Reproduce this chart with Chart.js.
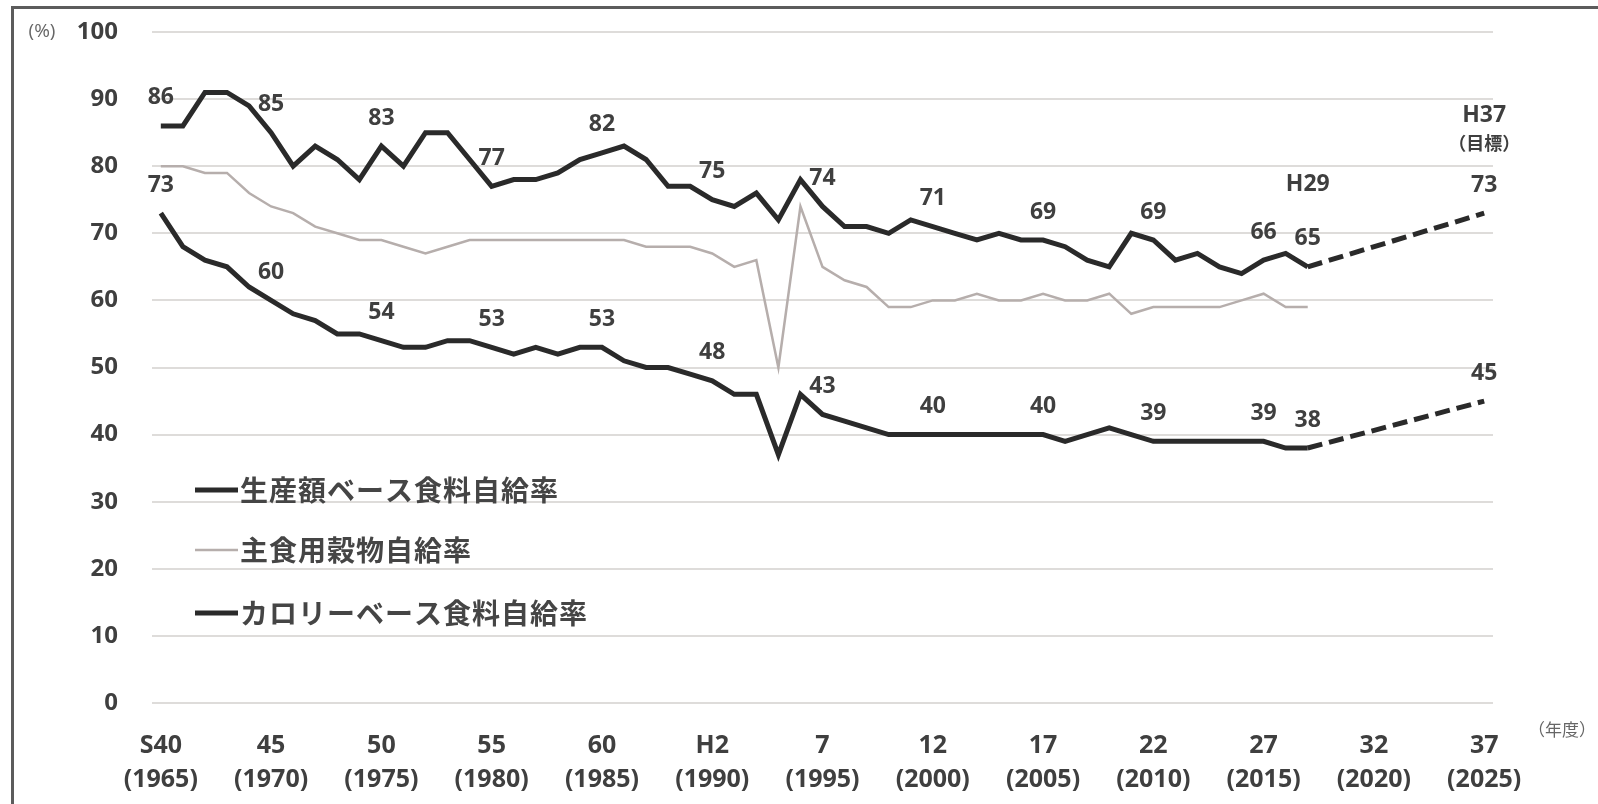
<!DOCTYPE html>
<html lang="ja">
<head>
<meta charset="utf-8">
<title>食料自給率の推移</title>
<script src="https://cdn.jsdelivr.net/npm/chart.js@4.4.1/dist/chart.umd.min.js"></script>
<style>
    html, body { margin: 0; padding: 0; background: #fff; }
    #wrap { position: relative; width: 1598px; height: 804px; overflow: hidden; }
    #marco { position: absolute; left: 11px; top: 6px; width: 1600px; height: 795px;
             border-top: 3px solid #5c5c5c; border-left: 3px solid #5c5c5c;
             border-bottom: 1px solid #d6d6d6; pointer-events: none; }
    canvas { position: absolute; left: 0; top: 0; }
</style>
</head>
<body>
<div id="wrap">
    <canvas id="chart1" width="1598" height="804"></canvas>
    <div id="marco"></div>
</div>
<script>
// Años fiscales (1965 - 2017)
var anios = [1965, 1966, 1967, 1968, 1969, 1970, 1971, 1972, 1973, 1974,
             1975, 1976, 1977, 1978, 1979, 1980, 1981, 1982, 1983, 1984,
             1985, 1986, 1987, 1988, 1989, 1990, 1991, 1992, 1993, 1994,
             1995, 1996, 1997, 1998, 1999, 2000, 2001, 2002, 2003, 2004,
             2005, 2006, 2007, 2008, 2009, 2010, 2011, 2012, 2013, 2014,
             2015, 2016, 2017];

// 生産額ベース食料自給率
var produccion = [86, 86, 91, 91, 89, 85, 80, 83, 81, 78,
                  83, 80, 85, 85, 81, 77, 78, 78, 79, 81,
                  82, 83, 81, 77, 77, 75, 74, 76, 72, 78,
                  74, 71, 71, 70, 72, 71, 70, 69, 70, 69,
                  69, 68, 66, 65, 70, 69, 66, 67, 65, 64,
                  66, 67, 65];

// 主食用穀物自給率
var granos = [80, 80, 79, 79, 76, 74, 73, 71, 70, 69,
              69, 68, 67, 68, 69, 69, 69, 69, 69, 69,
              69, 69, 68, 68, 68, 67, 65, 66, 50, 74,
              65, 63, 62, 59, 59, 60, 60, 61, 60, 60,
              61, 60, 60, 61, 58, 59, 59, 59, 59, 60,
              61, 59, 59];

// カロリーベース食料自給率
var calorias = [73, 68, 66, 65, 62, 60, 58, 57, 55, 55,
                54, 53, 53, 54, 54, 53, 52, 53, 52, 53,
                53, 51, 50, 50, 49, 48, 46, 46, 37, 46,
                43, 42, 41, 40, 40, 40, 40, 40, 40, 40,
                40, 39, 40, 41, 40, 39, 39, 39, 39, 39,
                39, 38, 38];

// Metas H37 (2025)
var aniosMeta = [2017, 2025];
var metaProduccion = [65, 73];
var metaCalorias = [38, 45];

// Etiquetas del eje X
var aniosEje = [1965, 1970, 1975, 1980, 1985, 1990, 1995, 2000, 2005, 2010, 2015, 2020, 2025];
var etiquetasEje = ["S40", "45", "50", "55", "60", "H2", "7", "12", "17", "22", "27", "32", "37"];

// Años con valor rotulado
var aniosRotulo = [1965, 1970, 1975, 1980, 1985, 1990, 1995, 2000, 2005, 2010, 2015, 2017];

var nombres = ["生産額ベース食料自給率", "主食用穀物自給率", "カロリーベース食料自給率"];

function puntos(xs, ys) {
    var res = [];
    for (var i = 0; i < xs.length; i++) {
        res.push({ x: xs[i], y: ys[i] });
    }
    return res;
}

var negro = "#2a2a2a";
var gris = "#b6aeac";
var colorTexto = "#3f3f3f";
var fuenteNum = "'Open Sans', 'DejaVu Sans', sans-serif";
var fuenteJp = "'Noto Sans CJK JP', sans-serif";

// Rótulos de valores, leyenda y textos sueltos
var rotulos = {
    id: "rotulos",
    afterDatasetsDraw: function (chart) {
        var ctx = chart.ctx;
        ctx.save();
        ctx.fillStyle = colorTexto;
        ctx.textAlign = "center";
        ctx.textBaseline = "middle";
        ctx.font = "bold 23px " + fuenteNum;

        [0, 2].forEach(function (ds) {
            var meta = chart.getDatasetMeta(ds);
            var valores = ds == 0 ? produccion : calorias;
            aniosRotulo.forEach(function (a) {
                var idx = anios.indexOf(a);
                var p = meta.data[idx];
                ctx.fillText(String(valores[idx]), p.x, p.y - 28);
            });
        });

        // metas
        [3, 4].forEach(function (ds) {
            var meta = chart.getDatasetMeta(ds);
            var valores = ds == 3 ? metaProduccion : metaCalorias;
            var p = meta.data[1];
            ctx.fillText(String(valores[1]), p.x, p.y - 28);
        });

        var p17 = chart.getDatasetMeta(0).data[anios.indexOf(2017)];
        ctx.fillText("H29", p17.x, p17.y - 82);
        var p25 = chart.getDatasetMeta(3).data[1];
        ctx.fillText("H37", p25.x, p25.y - 98);
        ctx.font = "bold 18px " + fuenteJp;
        ctx.fillText("（目標）", p25.x, p25.y - 70);

        // unidades
        ctx.fillStyle = "#666";
        ctx.font = "19px " + fuenteNum;
        ctx.fillText("(%)", 42, 32);
        ctx.font = "17px " + fuenteJp;
        ctx.fillText("（年度）", 1562, 730);

        // leyenda
        var ys = [490, 550, 613];
        var estilos = [[negro, 5], [gris, 2.5], [negro, 5]];
        ctx.textAlign = "left";
        ctx.font = "bold 28px " + fuenteJp;
        ctx.letterSpacing = "1px";
        for (var i = 0; i < 3; i++) {
            ctx.strokeStyle = estilos[i][0];
            ctx.lineWidth = estilos[i][1];
            ctx.beginPath();
            ctx.moveTo(195, ys[i]);
            ctx.lineTo(238, ys[i]);
            ctx.stroke();
            ctx.fillStyle = "#454545";
            ctx.fillText(nombres[i], 240, ys[i]);
        }
        ctx.restore();
    }
};

var datos = {
    datasets: [
        { label: nombres[0], data: puntos(anios, produccion), borderColor: negro, borderWidth: 5, order: 1 },
        { label: nombres[1], data: puntos(anios, granos), borderColor: gris, borderWidth: 2.5, order: 2 },
        { label: nombres[2], data: puntos(anios, calorias), borderColor: negro, borderWidth: 5, order: 1 },
        { label: "目標1", data: puntos(aniosMeta, metaProduccion), borderColor: negro, borderWidth: 5, borderDash: [15, 7] },
        { label: "目標2", data: puntos(aniosMeta, metaCalorias), borderColor: negro, borderWidth: 5, borderDash: [15, 7] }
    ]
};

var configuracion = {
    type: "line",
    data: datos,
    options: {
        responsive: false,
        animation: false,
        elements: {
            point: { radius: 0 },
            line: { tension: 0, borderJoinStyle: "miter", borderCapStyle: "butt" }
        },
        layout: { padding: { top: 32, right: 105, left: 0, bottom: 0 } },
        plugins: { legend: { display: false }, tooltip: { enabled: false } },
        scales: {
            x: {
                type: "linear",
                min: 1964.6,
                max: 2025.4,
                afterBuildTicks: function (s) {
                    s.ticks = aniosEje.map(function (v) { return { value: v }; });
                },
                afterFit: function (s) { s.height = 101; },
                grid: { display: false, drawTicks: false },
                border: { display: false },
                ticks: {
                    autoSkip: false,
                    maxRotation: 0,
                    padding: 26,
                    color: colorTexto,
                    font: { family: fuenteNum, size: 25, weight: "bold", lineHeight: 1.36 },
                    callback: function (v) {
                        var i = aniosEje.indexOf(v);
                        return [etiquetasEje[i], "(" + v + ")"];
                    }
                }
            },
            y: {
                min: 0,
                max: 100,
                afterFit: function (s) { s.width = 152; },
                grid: { color: "#dedcda", lineWidth: 2, drawTicks: true, tickLength: 34, tickColor: "rgba(0,0,0,0)" },
                border: { display: false },
                ticks: {
                    stepSize: 10,
                    padding: 0,
                    color: colorTexto,
                    font: { family: fuenteNum, size: 24, weight: "bold" }
                }
            }
        }
    },
    plugins: [rotulos]
};

var contexto = document.getElementById("chart1").getContext("2d");
var miGrafico = new Chart(contexto, configuracion);
</script>
</body>
</html>
